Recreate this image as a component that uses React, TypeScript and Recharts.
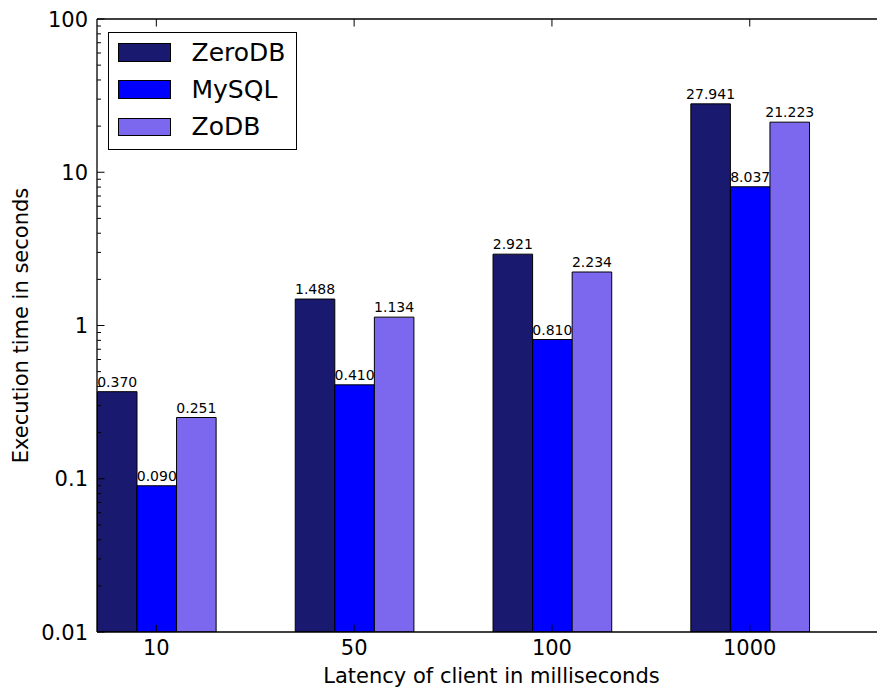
import { BarChart, Bar, XAxis, YAxis, Legend, LabelList } from "recharts";

const categories = ["10", "50", "100", "1000"];
const zeroDbTimes = [0.37, 1.488, 2.921, 27.941];
const mySqlTimes = [0.09, 0.41, 0.81, 8.037];
const zoDbTimes = [0.251, 1.134, 2.234, 21.223];

const seriesKeys = ["zeroDb", "mySql", "zoDb"];
const seriesNames = ["ZeroDB", "MySQL", "ZoDB"];
const seriesColors = ["#191970", "#0000ff", "#7b68ee"];

const yMajorTicks = [0.01, 0.1, 1, 10, 100];
const yTickLabels = ["0.01", "0.1", "1", "10", "100"];
const minorSteps = [2, 3, 4, 5, 6, 7, 8, 9];

const data = categories.map((name, i) => ({
  name,
  zeroDb: zeroDbTimes[i],
  mySql: mySqlTimes[i],
  zoDb: zoDbTimes[i],
}));

const yTicks = [
  ...yMajorTicks,
  ...yMajorTicks.slice(0, -1).flatMap((d) => minorSteps.map((m) => +(d * m).toPrecision(3))),
];

const FONT = '"DejaVu Sans", sans-serif';
const W = 877;
const H = 688;
const LEFT = 97;
const TOP = 19;
const BOTTOM = 632;
// one category unit in px; bars are 0.2 units wide and start at the left of each unit
const UNIT = 197.8;
const PAD_LEFT = -0.2 * UNIT;
const PAD_RIGHT = W - (LEFT + 3.8 * UNIT);

const YTick = ({ x, y, payload }: any) => {
  const idx = yMajorTicks.indexOf(payload.value);
  const major = idx >= 0;
  return (
    <g>
      <line x1={LEFT} x2={LEFT + (major ? 7.5 : 4)} y1={y} y2={y} stroke="#000" strokeWidth={1} />
      {major && (
        <text x={x} y={y} dy="0.36em" textAnchor="end" fontSize={21} fill="#000">
          {yTickLabels[idx]}
        </text>
      )}
    </g>
  );
};

const BottomTick = ({ x, y, payload }: any) => (
  <g>
    <line x1={x} x2={x} y1={BOTTOM} y2={BOTTOM - 7.5} stroke="#000" strokeWidth={1} />
    <text x={x} y={y} dy="0.71em" textAnchor="middle" fontSize={21} fill="#000">
      {payload.value}
    </text>
  </g>
);

const TopTick = ({ x }: any) => (
  <line x1={x} x2={x} y1={TOP} y2={TOP + 7.5} stroke="#000" strokeWidth={1} />
);

const LegendBox = () => (
  <div
    style={{
      position: "relative",
      width: 187,
      height: 116,
      border: "1.3px solid #000",
      background: "#fff",
      fontFamily: FONT,
    }}
  >
    {seriesNames.map((name, i) => (
      <div
        key={name}
        style={{
          position: "absolute",
          left: 9,
          top: 10 + i * 37.2,
          height: 19,
          display: "flex",
          alignItems: "center",
        }}
      >
        <div
          style={{
            width: 50.5,
            height: 16.5,
            background: seriesColors[i],
            border: "1.3px solid #000",
          }}
        />
        <span style={{ marginLeft: 21, fontSize: 25, lineHeight: "19px", color: "#000" }}>{name}</span>
      </div>
    ))}
  </div>
);

export default function App() {
  return (
    <div style={{ position: "absolute", left: 0, top: 0, width: W, height: H, background: "#fff", fontFamily: FONT }}>
      <BarChart
        width={W}
        height={H}
        data={data}
        margin={{ top: 0, right: 0, bottom: 0, left: 0 }}
        barGap={0}
        barSize={0.2 * UNIT}
      >
        <XAxis
          dataKey="name"
          height={H - BOTTOM}
          padding={{ left: PAD_LEFT, right: PAD_RIGHT }}
          tickSize={0}
          tickMargin={8}
          tick={<BottomTick />}
          interval={0}
          axisLine={{ stroke: "#000", strokeWidth: 1.3 }}
          label={{ value: "Latency of client in milliseconds", position: "insideBottom", offset: 5, dx: 4.5, fontSize: 21, fill: "#000" }}
        />
        <XAxis
          xAxisId="top"
          orientation="top"
          dataKey="name"
          height={TOP}
          padding={{ left: PAD_LEFT, right: PAD_RIGHT }}
          tickSize={0}
          tick={<TopTick />}
          interval={0}
          axisLine={{ stroke: "#000", strokeWidth: 1.3 }}
        />
        <YAxis
          type="number"
          scale="log"
          domain={[0.01, 100]}
          allowDataOverflow
          ticks={yTicks}
          interval={0}
          width={LEFT}
          tickSize={0}
          tickMargin={9}
          tick={<YTick />}
          axisLine={{ stroke: "#000", strokeWidth: 1.3 }}
          label={{ value: "Execution time in seconds", angle: -90, position: "center", dx: -28, fontSize: 21, fill: "#000" }}
        />
        <Legend
          layout="vertical"
          align="center"
          verticalAlign="middle"
          content={<LegendBox />}
          wrapperStyle={{ left: 108, top: 32, width: 189, height: 118 }}
        />
        {seriesKeys.map((key, i) => (
          <Bar
            key={key}
            dataKey={key}
            name={seriesNames[i]}
            fill={seriesColors[i]}
            stroke="#000"
            strokeWidth={1}
            isAnimationActive={false}
          >
            <LabelList
              dataKey={key}
              position="top"
              offset={5}
              fontSize={14}
              fill="#000"
              formatter={(v: any) => Number(v).toFixed(3)}
            />
          </Bar>
        ))}
      </BarChart>
    </div>
  );
}
